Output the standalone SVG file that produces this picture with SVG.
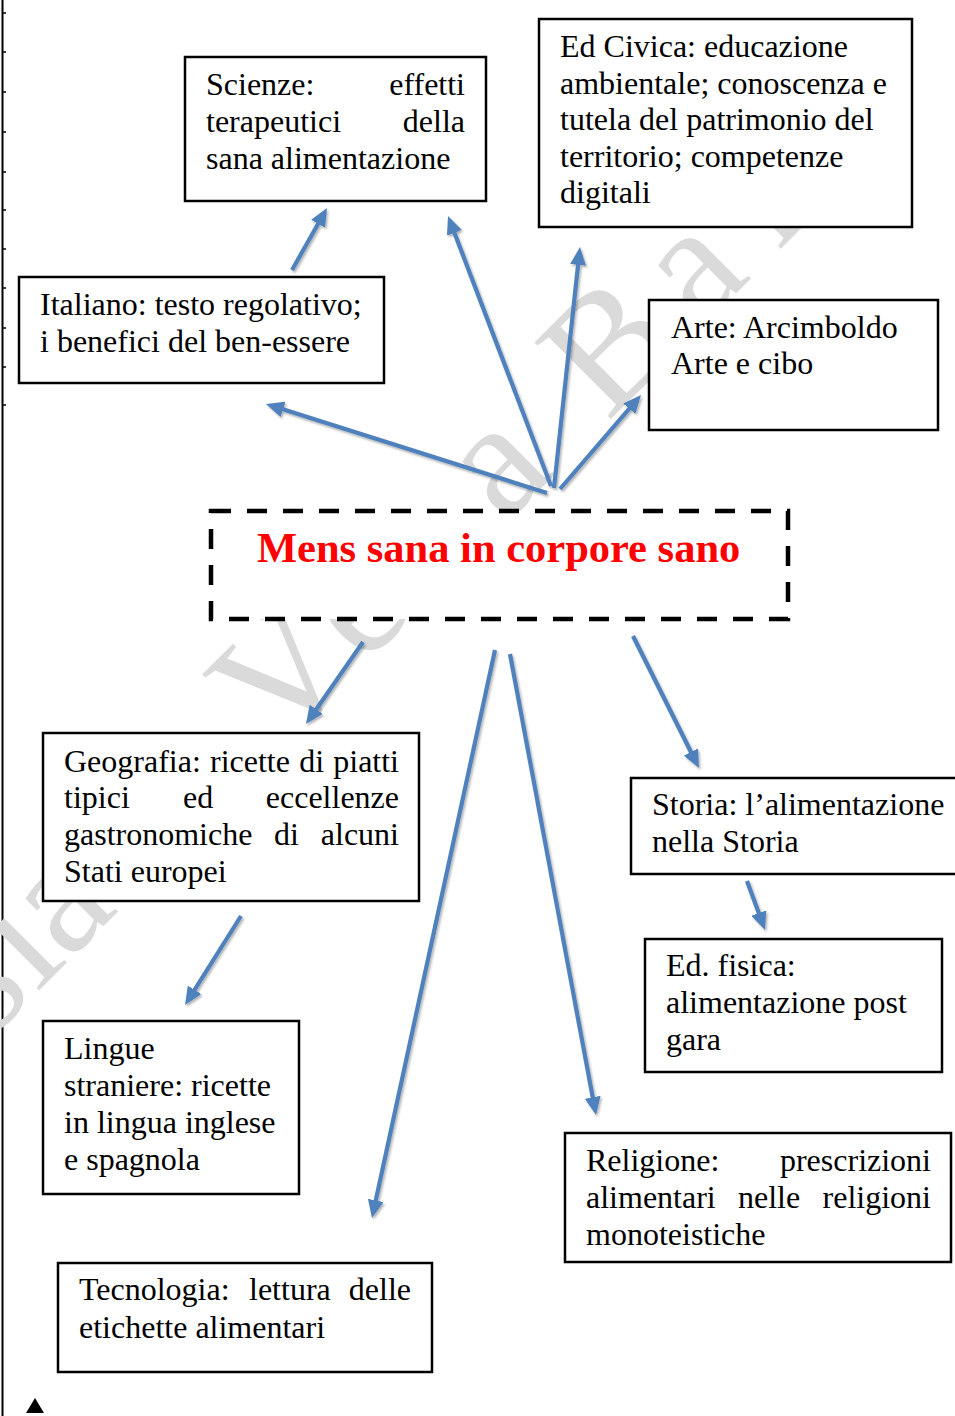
<svg xmlns="http://www.w3.org/2000/svg" width="955" height="1416" viewBox="0 0 955 1416">
<style>
.box{fill:#fff;stroke:#000;stroke-width:2.5}
.t{font-family:"Liberation Serif","Times New Roman",serif;font-size:32px;fill:#000}
.e{text-anchor:end}
.title{font-family:"Liberation Serif","Times New Roman",serif;font-size:42.5px;font-weight:bold;fill:#ff0000}
.wm{font-family:"Liberation Serif","Times New Roman",serif;font-size:165px;fill:#dadada}
.arr{stroke:#4f81bd;stroke-width:4.2;fill:none;marker-end:url(#ah)}
</style>
<defs>
<marker id="ah" markerUnits="userSpaceOnUse" markerWidth="18" markerHeight="16" refX="6" refY="8" orient="auto">
<path d="M0,0 L18,8 L0,16 z" fill="#4f81bd"/>
</marker>
<filter id="sh" x="-10%" y="-10%" width="120%" height="120%">
<feDropShadow dx="1.5" dy="2" stdDeviation="1.2" flood-color="#000" flood-opacity="0.3"/>
</filter>
</defs>
<rect width="955" height="1416" fill="#fff"/>
<g id="margin">
<line x1="2.5" y1="0" x2="2.5" y2="1416" stroke="#000" stroke-width="2"/>
<path d="M2,13h4M2,52h4M2,92h4M2,132h4M2,172h4M2,210h4M2,249h4M2,288h4M2,328h4M2,367h4M2,405h4" stroke="#000" stroke-width="1.5"/>
<path d="M35,1398 L44,1413 L26,1413 z" fill="#000"/>
</g>
<g id="watermark">
<text class="wm" transform="rotate(-45)" y="728" x="-742 -676 -632 -560 -336 -214 -141 -14 58 131 263 373">sia Vera Bar</text>
</g>
<g id="node-scienze">
<rect class="box" x="185" y="57" width="301" height="144"/>
<text class="t" x="206" y="95">Scienze:</text><text class="t e" x="465" y="95">effetti</text>
<text class="t" x="206" y="132">terapeutici</text><text class="t e" x="465" y="132">della</text>
<text class="t" x="206" y="169">sana alimentazione</text>
</g>
<g id="node-edcivica">
<rect class="box" x="539" y="19" width="373" height="208"/>
<text class="t" x="560" y="57">Ed Civica: educazione</text>
<text class="t" x="560" y="94">ambientale; conoscenza e</text>
<text class="t" x="560" y="130">tutela del patrimonio del</text>
<text class="t" x="560" y="167">territorio; competenze</text>
<text class="t" x="560" y="203">digitali</text>
</g>
<g id="node-italiano">
<rect class="box" x="19" y="277" width="365" height="106"/>
<text class="t" x="40" y="315">Italiano: testo regolativo;</text>
<text class="t" x="40" y="352">i benefici del ben-essere</text>
</g>
<g id="node-arte">
<rect class="box" x="649" y="300" width="289" height="130"/>
<text class="t" x="671" y="338">Arte: Arcimboldo</text>
<text class="t" x="671" y="374">Arte e cibo</text>
</g>
<g id="node-center">
<rect x="211" y="511" width="577" height="108" fill="#fff" stroke="#000" stroke-width="4.5" stroke-dasharray="20 16"/>
<text class="title" x="257" y="562">Mens sana in corpore sano</text>
</g>
<g id="node-geografia">
<rect class="box" x="43" y="733" width="376" height="168"/>
<text class="t" x="64" y="772" word-spacing="1.2">Geografia: ricette di piatti</text>
<text class="t" x="64" y="808">tipici</text><text class="t" x="183" y="808">ed</text><text class="t e" x="399" y="808">eccellenze</text>
<text class="t" x="64" y="845">gastronomiche</text><text class="t" x="274" y="845">di</text><text class="t e" x="399" y="845">alcuni</text>
<text class="t" x="64" y="882">Stati europei</text>
</g>
<g id="node-storia">
<rect class="box" x="631" y="778" width="340" height="96"/>
<text class="t" x="652" y="815">Storia: l’alimentazione</text>
<text class="t" x="652" y="852">nella Storia</text>
</g>
<g id="node-edfisica">
<rect class="box" x="645" y="939" width="297" height="133"/>
<text class="t" x="666" y="976">Ed. fisica:</text>
<text class="t" x="666" y="1013">alimentazione post</text>
<text class="t" x="666" y="1050">gara</text>
</g>
<g id="node-lingue">
<rect class="box" x="43" y="1021" width="256" height="173"/>
<text class="t" x="64" y="1059">Lingue</text>
<text class="t" x="64" y="1096">straniere: ricette</text>
<text class="t" x="64" y="1133">in lingua inglese</text>
<text class="t" x="64" y="1170">e spagnola</text>
</g>
<g id="node-religione">
<rect class="box" x="565" y="1133" width="386" height="129"/>
<text class="t" x="586" y="1171">Religione:</text><text class="t e" x="931" y="1171">prescrizioni</text>
<text class="t" x="586" y="1208">alimentari</text><text class="t" x="738" y="1208">nelle</text><text class="t e" x="931" y="1208">religioni</text>
<text class="t" x="586" y="1245">monoteistiche</text>
</g>
<g id="node-tecnologia">
<rect class="box" x="58" y="1263" width="374" height="109"/>
<text class="t" x="79" y="1300">Tecnologia:</text><text class="t" x="249" y="1300">lettura</text><text class="t e" x="411" y="1300">delle</text>
<text class="t" x="79" y="1338">etichette alimentari</text>
</g>
<g id="connectors" filter="url(#sh)">
<line class="arr" x1="292" y1="270" x2="321.1" y2="218.5"/>
<line class="arr" x1="551" y1="486" x2="452.3" y2="227.2"/>
<line class="arr" x1="554" y1="488" x2="578.7" y2="258.9"/>
<line class="arr" x1="560" y1="489" x2="633.2" y2="404.1"/>
<line class="arr" x1="547" y1="493" x2="277.4" y2="407.6"/>
<line class="arr" x1="363" y1="642" x2="312.8" y2="714.2"/>
<line class="arr" x1="495" y1="650" x2="374.5" y2="1206.3"/>
<line class="arr" x1="510" y1="654" x2="593.8" y2="1103.2"/>
<line class="arr" x1="633" y1="636" x2="693.6" y2="757.3"/>
<line class="arr" x1="241" y1="916" x2="191.4" y2="994.9"/>
<line class="arr" x1="747" y1="881" x2="760.9" y2="918.7"/>
</g>
</svg>
